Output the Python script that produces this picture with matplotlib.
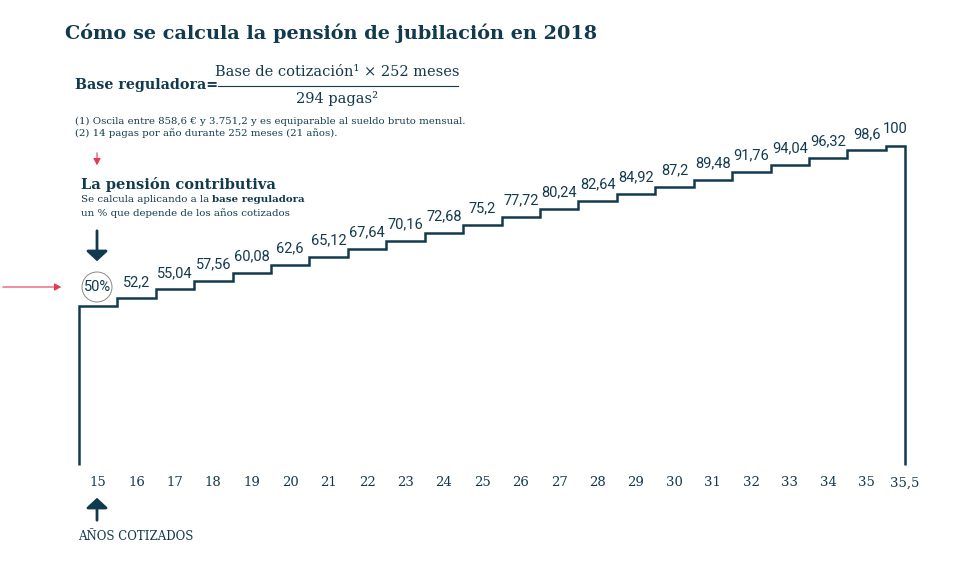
import matplotlib.pyplot as plt
from matplotlib.patches import Circle

# datos: porcentaje de la base reguladora según años cotizados
anios = ["15", "16", "17", "18", "19", "20", "21", "22", "23", "24", "25",
         "26", "27", "28", "29", "30", "31", "32", "33", "34", "35", "35,5"]
porcentaje = [50, 52.2, 55.04, 57.56, 60.08, 62.6, 65.12, 67.64, 70.16, 72.68, 75.2,
              77.72, 80.24, 82.64, 84.92, 87.2, 89.48, 91.76, 94.04, 96.32, 98.6, 100]
etiquetas = ["50%", "52,2", "55,04", "57,56", "60,08", "62,6", "65,12", "67,64", "70,16",
             "72,68", "75,2", "77,72", "80,24", "82,64", "84,92", "87,2", "89,48",
             "91,76", "94,04", "96,32", "98,6", "100"]

AZUL = "#123a4e"
ROJO = "#e33a55"
SERIF = "DejaVu Serif"
SANS = "Roboto"

W, H = 980, 569
fig = plt.figure(figsize=(W / 100, H / 100), dpi=100)
ax = fig.add_axes([0, 0, 1, 1])

# escala: posición 0 -> px 98, posición 21 -> px 905 ; 0% -> px 465, 100% -> px 146
sx = (905 - 98) / 21
sy = (465 - 146) / 100
ax.set_xlim(-98 / sx, (W - 98) / sx)
ax.set_ylim(-(H - 465) / sy, 465 / sy)
ax.axis("off")


def px(x, y):
    return (x / W, 1 - y / H)


# escalera
n = len(porcentaje)
bordes = [i - 0.5 for i in range(n)] + [n - 1]
ax.stairs(porcentaje, bordes, baseline=0, color=AZUL, lw=1.8)

# etiquetas de valor sobre cada peldaño
for i, (v, lab) in enumerate(zip(porcentaje, etiquetas)):
    cx = (bordes[i] + bordes[i + 1]) / 2
    dy = 5.7 if i == 0 else 5.2
    ax.text(cx, v + dy, lab, ha="center", va="center", fontsize=10.5,
            family=SANS, color=AZUL)
# círculo alrededor del 50%
ax.add_patch(Circle((0.97, (H - 287) / 100), 0.15, transform=fig.dpi_scale_trans,
                    fill=False, ec="#8a8a8a", lw=0.7))

# eje de años
for i, a in enumerate(anios):
    ax.text(i, -5.6, a, ha="center", va="center", fontsize=9.5,
            family=SERIF, color=AZUL)

# título y fórmula
fig.text(*px(65, 33), "Cómo se calcula la pensión de jubilación en 2018",
         fontsize=13.9, fontweight="bold", family=SERIF, color=AZUL, va="center")
fig.text(*px(75, 85), "Base reguladora=", fontsize=10.3, fontweight="bold",
         family=SERIF, color=AZUL, va="center")
fig.text(*px(337, 72), "Base de cotización¹ × 252 meses", fontsize=10.5,
         family=SERIF, color=AZUL, ha="center", va="center")
fig.add_artist(plt.Line2D([218 / W, 458 / W], [1 - 86 / H, 1 - 86 / H],
                          color=AZUL, lw=0.8))
fig.text(*px(337, 99), "294 pagas²", fontsize=10.5, family=SERIF, color=AZUL,
         ha="center", va="center")
fig.text(*px(75, 121), "(1) Oscila entre 858,6 € y 3.751,2 y es equiparable al sueldo bruto mensual.",
         fontsize=7.3, family=SERIF, color=AZUL, va="center")
fig.text(*px(75, 133), "(2) 14 pagas por año durante 252 meses (21 años).",
         fontsize=7.3, family=SERIF, color=AZUL, va="center")

# bloque de la pensión contributiva
fig.text(*px(81, 185), "La pensión contributiva", fontsize=10.5, fontweight="bold",
         family=SERIF, color=AZUL, va="center")
t1 = fig.text(*px(81, 200), "Se calcula aplicando a la ", fontsize=7.4,
              family=SERIF, color=AZUL, va="center")
ax.annotate("base reguladora", xy=(1, 0.5), xycoords=t1, va="center",
            fontsize=7.4, fontweight="bold", family=SERIF, color=AZUL)
fig.text(*px(81, 213), "un % que depende de los años cotizados", fontsize=7.4,
         family=SERIF, color=AZUL, va="center")
fig.text(*px(78, 537), "AÑOS COTIZADOS", fontsize=8.5, family=SERIF,
         color=AZUL, va="center")

# flechas
ax.annotate("", xy=px(97, 168), xytext=px(97, 150), xycoords="figure fraction",
            arrowprops=dict(arrowstyle="-|>,head_length=0.4,head_width=0.22",
                            color=ROJO, lw=0.8))
ax.annotate("", xy=px(64, 287), xytext=px(0, 287), xycoords="figure fraction",
            arrowprops=dict(arrowstyle="-|>,head_length=0.4,head_width=0.22",
                            color=ROJO, lw=0.8))
ax.annotate("", xy=px(97, 264), xytext=px(97, 228), xycoords="figure fraction",
            arrowprops=dict(arrowstyle="-|>,head_length=0.6,head_width=0.65",
                            color=AZUL, lw=2))
ax.annotate("", xy=px(97, 495), xytext=px(97, 523), xycoords="figure fraction",
            arrowprops=dict(arrowstyle="-|>,head_length=0.6,head_width=0.65",
                            color=AZUL, lw=2))

fig.savefig("out.png", dpi=100, facecolor="white")
